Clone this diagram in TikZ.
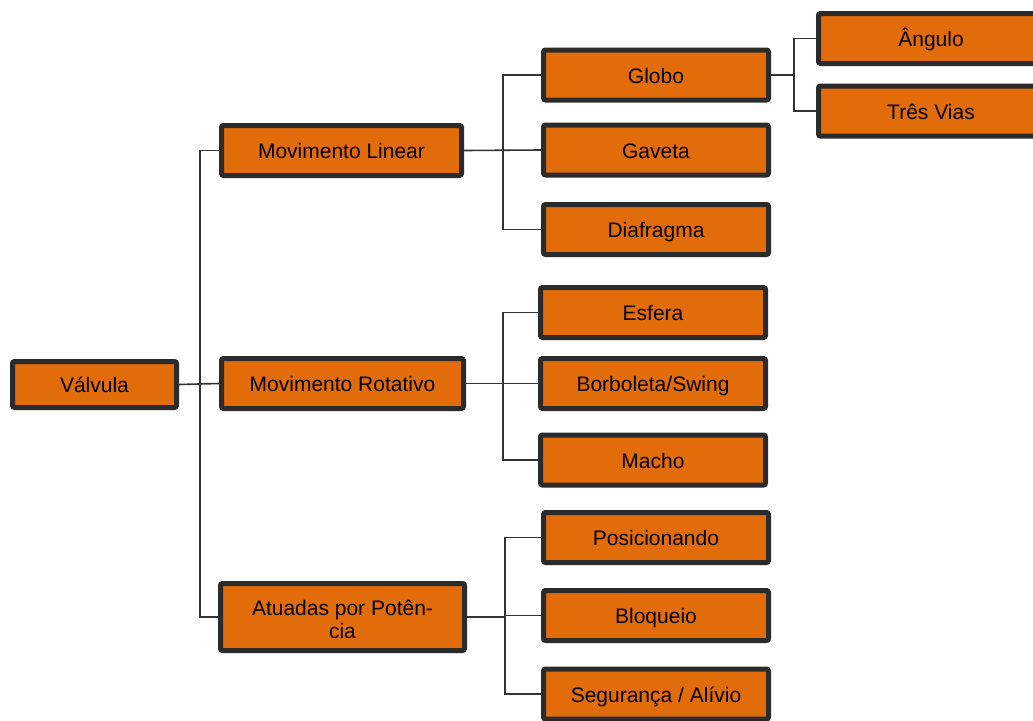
\documentclass[tikz,border=0pt]{standalone}
\usepackage{fontspec}
\setmainfont{Liberation Sans}
\usepackage{tikz}
\usetikzlibrary{positioning}

\definecolor{boxfill}{HTML}{E36C0A}
\definecolor{boxline}{HTML}{2B2B2B}
\definecolor{linecol}{HTML}{333333}

\tikzset{
  box/.style={draw=boxline,fill=boxfill,line width=5pt,rounded corners=2pt,
    minimum width=225pt,minimum height=50pt,inner sep=0pt,
    text height=16pt,text depth=0pt,
    font=\fontsize{21}{23}\selectfont},
  conn/.style={draw=linecol,line width=1.6pt}
}

\begin{document}
\begin{tikzpicture}[x=1pt,y=-1pt]
\useasboundingbox (0,0) rectangle (1033,720);

% raiz e primeiro nivel
\node[box,minimum width=164pt,minimum height=46pt] (valvula) at (94.5,384.5) {Válvula};
\node[box,minimum width=240pt] (linear) at (341.5,150.5) {Movimento Linear};
\node[box,minimum width=242pt] (rotativo) at (342.5,383.5) {Movimento Rotativo};
\node[box,minimum width=244pt,minimum height=67pt] (atuadas) at (342.5,617) {};
\begin{scope}
  \clip (218,580) rectangle (467,637);
  \node[font=\fontsize{21}{23}\selectfont,align=center,anchor=base] at (342.5,638) {Atuadas por Potên-\\cia};
\end{scope}

% segundo nivel
\foreach \t/\y [count=\n] in {Globo/75,Gaveta/150,Diafragma/229.5}
  \node[box] (lin\n) at (656,\y) {\t};
\foreach \t/\y [count=\n] in {Esfera/312.5,{Borboleta/Swing}/383.5,Macho/460}
  \node[box] (rot\n) at (653,\y) {\t};
\foreach \t/\y [count=\n] in {Posicionando/537.5,Bloqueio/615.5,{Segurança / Alívio}/694}
  \node[box] (atu\n) at (656,\y) {\t};

% terceiro nivel
\node[box] (angulo) at (931,38.5) {Ângulo};
\node[box] (tresvias) at (931,111) {Três Vias};

% ligacoes
\draw[conn] (valvula.east) -- (rotativo.west);
\draw[conn] (valvula.east) -- ++(21,0) |- (linear.west);
\draw[conn] (valvula.east) -- ++(21,0) |- (atuadas.west);

\draw[conn] (linear.east) -- ++(39,0) |- (lin1.west);
\draw[conn] (linear.east) -- (lin2.west);
\draw[conn] (linear.east) -- ++(39,0) |- (lin3.west);

\draw[conn] (rotativo.east) -- ++(37,0) |- (rot1.west);
\draw[conn] (rotativo.east) -- (rot2.west);
\draw[conn] (rotativo.east) -- ++(37,0) |- (rot3.west);

\draw[conn] (atuadas.east) -- ++(38,0) |- (atu1.west);
\draw[conn] (atuadas.east) -- ++(38,0) |- (atu2.west);
\draw[conn] (atuadas.east) -- ++(38,0) |- (atu3.west);

\draw[conn] (lin1.east) -- ++(23,0) |- (angulo.west);
\draw[conn] (lin1.east) -- ++(23,0) |- (tresvias.west);
\end{tikzpicture}
\end{document}
